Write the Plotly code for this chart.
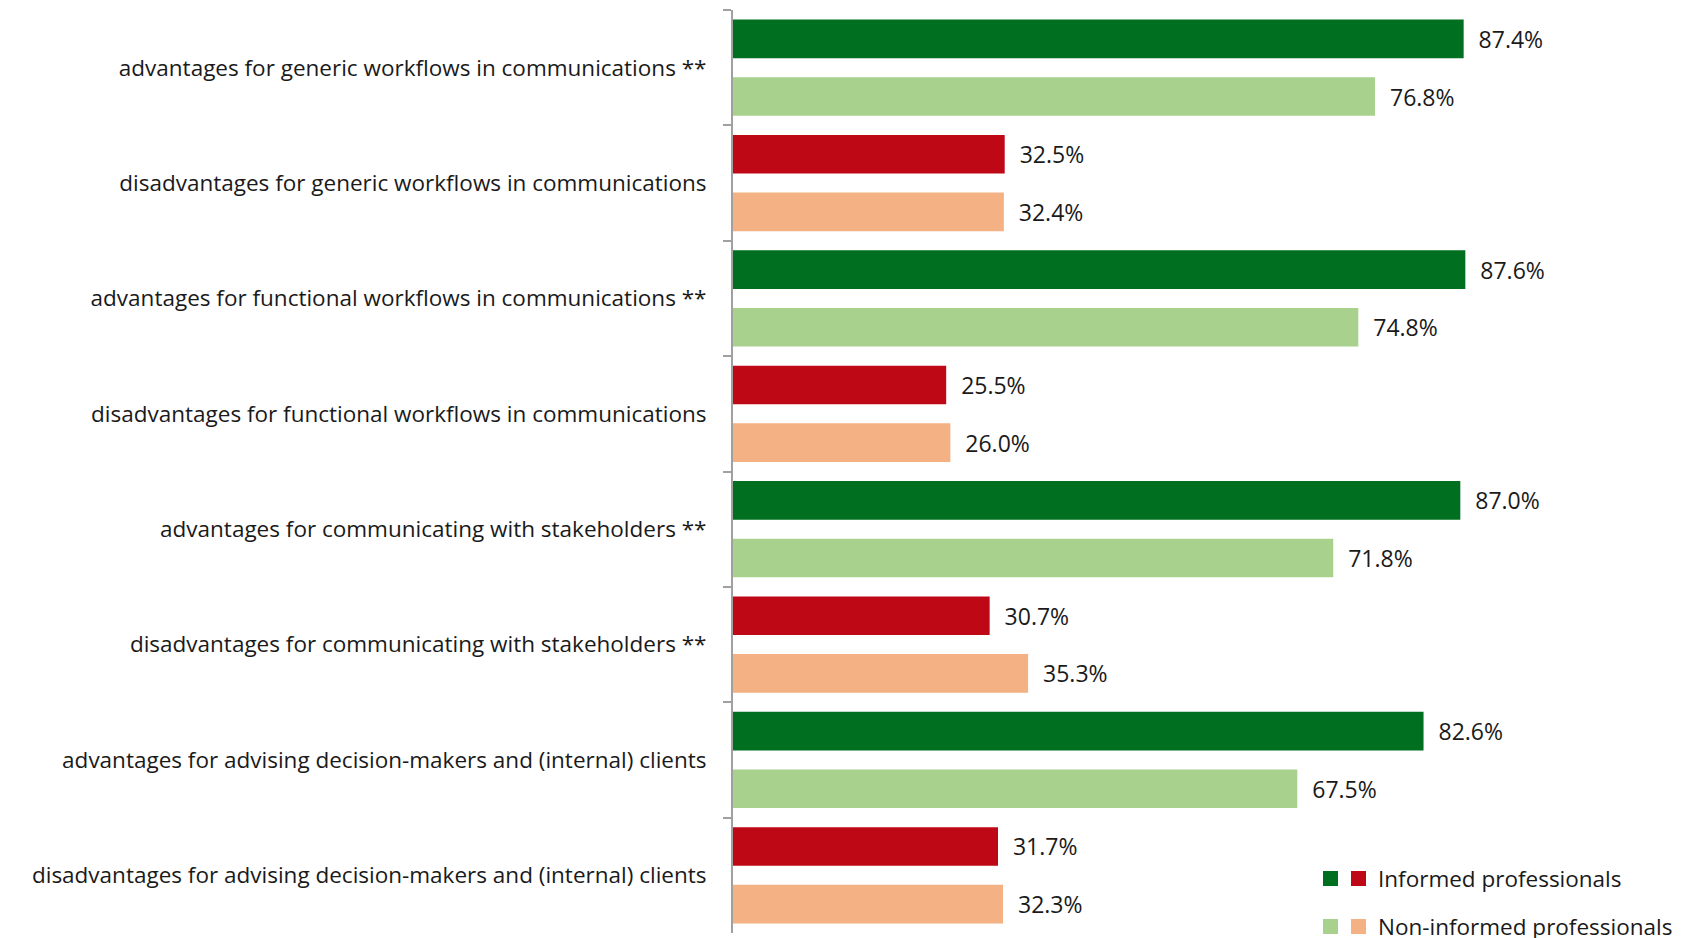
import plotly.graph_objects as go

categories = [
    "advantages for generic workflows in communications **",
    "disadvantages for generic workflows in communications",
    "advantages for functional workflows in communications **",
    "disadvantages for functional workflows in communications",
    "advantages for communicating with stakeholders **",
    "disadvantages for communicating with stakeholders **",
    "advantages for advising decision-makers and (internal) clients",
    "disadvantages for advising decision-makers and (internal) clients",
]
informed = [87.4, 32.5, 87.6, 25.5, 87.0, 30.7, 82.6, 31.7]
non_informed = [76.8, 32.4, 74.8, 26.0, 71.8, 35.3, 67.5, 32.3]
series_names = ["Informed professionals", "Non-informed professionals"]

DARK_GREEN = "#006F1F"
LIGHT_GREEN = "#A9D18E"
DARK_RED = "#BE0816"
LIGHT_ORANGE = "#F4B183"

is_adv = [c.startswith("advantages") for c in categories]
col_inf = [DARK_GREEN if a else DARK_RED for a in is_adv]
col_non = [LIGHT_GREEN if a else LIGHT_ORANGE for a in is_adv]

FONT = "Open Sans"
FS_LABEL = 22.5
FS_VAL = 23
FS_LEG = 22.5
TXT = "#1a1a1a"

fig = go.Figure()
for name, vals, cols in [(series_names[0], informed, col_inf), (series_names[1], non_informed, col_non)]:
    fig.add_trace(go.Bar(
        y=categories, x=vals, orientation="h", name=name,
        marker=dict(color=cols, line=dict(width=0)),
        text=vals, texttemplate="\u00a0\u00a0%{x:.1f}%", textposition="outside",
        textfont=dict(family=FONT, size=FS_VAL, color=TXT),
        cliponaxis=False, showlegend=False,
    ))

# page body has an 8px margin; compensate so the plot lands where the reference has it
OFF = 8
W, H = 1682 - OFF, 938 - OFF
L, T = 733 - OFF, 10 - OFF
pw, ph = 836, 923
R, B = W - L - pw, H - T - ph

def px(x):
    return (x - OFF - L) / pw

def py(y):
    return (T + ph - (y - OFF)) / ph

shapes = []
ann = []
rows = [(871, DARK_GREEN, DARK_RED, series_names[0]), (919, LIGHT_GREEN, LIGHT_ORANGE, series_names[1])]
for top, c1, c2, label in rows:
    for x0, c in [(1323, c1), (1351, c2)]:
        shapes.append(dict(type="rect", xref="paper", yref="paper",
                           x0=px(x0), x1=px(x0 + 15), y0=py(top + 15), y1=py(top),
                           fillcolor=c, line=dict(width=0)))
    ann.append(dict(xref="paper", yref="paper", x=px(1376), y=py(top + 7.5),
                    xanchor="left", yanchor="middle", showarrow=False, text=label,
                    font=dict(family=FONT, size=FS_LEG, color=TXT)))

fig.update_layout(
    width=W, height=H,
    margin=dict(l=L, r=R, t=T, b=B, pad=0),
    plot_bgcolor="white", paper_bgcolor="white",
    barmode="group", bargap=0.0, bargroupgap=0.33,
    shapes=shapes, annotations=ann,
    font=dict(family=FONT, size=FS_LABEL, color=TXT),
    xaxis=dict(range=[0, 100], visible=False, fixedrange=True),
    yaxis=dict(autorange="reversed", showline=True, linecolor="#a0a0a0", linewidth=2,
               ticks="outside", tickson="boundaries", ticklen=8, tickcolor="#a0a0a0", tickwidth=2,
               showgrid=False, zeroline=False,
               tickfont=dict(family=FONT, size=FS_LABEL, color=TXT), ticklabelstandoff=20),
)

fig.write_html("out.html")
